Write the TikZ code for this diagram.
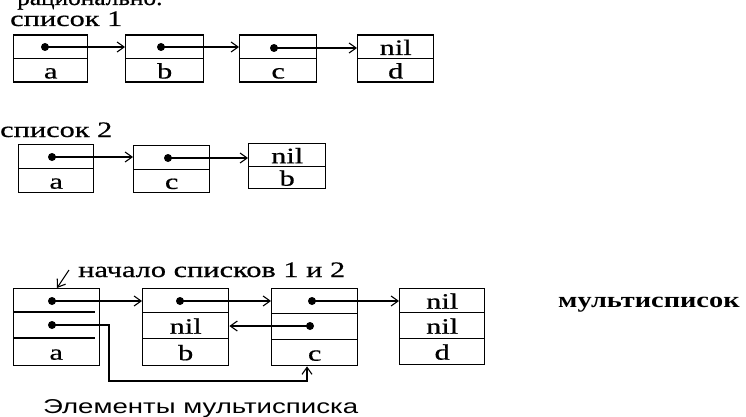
\documentclass[tikz,border=0pt]{standalone}
\usepackage{fontspec}
\setmainfont{Liberation Serif}
\newfontfamily\rf{Liberation Serif}[FakeStretch=1.38,FakeBold=0.6]
\newfontfamily\rft{Liberation Serif}[FakeStretch=1.15,FakeBold=0.6]
\newfontfamily\rfb{Liberation Serif Bold}[FakeStretch=1.29]
\newfontfamily\lsans{Liberation Sans}[FakeStretch=1.38]
\usetikzlibrary{arrows.meta}
\begin{document}
\begin{tikzpicture}[x=1pt,y=-1pt,
  cell/.style={draw,line width=1.4pt,inner sep=0pt,anchor=north west,
    text height=16pt,text depth=0pt,font=\rf\fontsize{22}{24}\selectfont},
  plain/.style={inner sep=0pt,anchor=north west,
    text height=16pt,text depth=0pt,font=\rf\fontsize{22}{24}\selectfont},
  dotn/.style={circle,fill,inner sep=0pt,minimum size=8pt},
  ptr/.style={line width=1.1pt,-{Straight Barb[length=7pt,width=10pt,line width=1.1pt]}},
  lbl/.style={anchor=base west,inner sep=0pt,font=\rf\fontsize{22}{24}\selectfont}]
\useasboundingbox (0,0) rectangle (746,417);

% top cut text
\node[lbl,font=\rft\fontsize{22}{24}\selectfont] (top) at (17,5) {рационально.};

% ---------- list 1 ----------
\node[lbl] (t1) at (10,26) {список 1};
\node[cell,minimum width=74pt,minimum height=23.5pt] (l1a1) at (13,34.5) {};
\node[cell,minimum width=74pt,minimum height=23.5pt] (l1a2) at (13,58) {a};
\node[cell,minimum width=78pt,minimum height=23.5pt] (l1b1) at (125,34.5) {};
\node[cell,minimum width=78pt,minimum height=23.5pt] (l1b2) at (125,58) {b};
\node[cell,minimum width=77pt,minimum height=23.5pt] (l1c1) at (239,34.5) {};
\node[cell,minimum width=77pt,minimum height=23.5pt] (l1c2) at (239,58) {c};
\node[cell,minimum width=76pt,minimum height=23.5pt] (l1d1) at (357,34.5) {nil};
\node[cell,minimum width=76pt,minimum height=23.5pt] (l1d2) at (357,58) {d};
\node[dotn] (l1ad) at (45,47) {};
\node[dotn] (l1bd) at (161,47) {};
\node[dotn] (l1cd) at (274,48) {};
\draw[ptr] (l1ad.center) -- (l1ad.center -| l1b1.west);
\draw[ptr] (l1bd.center) -- (l1bd.center -| l1c1.west);
\draw[ptr] (l1cd.center) -- (l1cd.center -| l1d1.west);

% ---------- list 2 ----------
\node[lbl] (t2) at (0,137) {список 2};
\node[cell,minimum width=75pt,minimum height=24pt] (l2a1) at (18,144) {};
\node[cell,minimum width=75pt,minimum height=24pt] (l2a2) at (18,168) {a};
\node[cell,minimum width=76pt,minimum height=23.5pt] (l2c1) at (133,145) {};
\node[cell,minimum width=76pt,minimum height=23.5pt] (l2c2) at (133,168.5) {c};
\node[cell,minimum width=77pt,minimum height=23pt] (l2b1) at (248,143) {nil};
\node[cell,minimum width=77pt,minimum height=22pt] (l2b2) at (248,166) {b};
\node[dotn] (l2ad) at (52,157) {};
\node[dotn] (l2cd) at (168,158) {};
\draw[ptr] (l2ad.center) -- (l2ad.center -| l2c1.west);
\draw[ptr] (l2cd.center) -- (l2cd.center -| l2b1.west);

% ---------- multilist ----------
\node[lbl] (t3) at (78,277) {начало списков 1 и 2};
\node[draw,line width=1.4pt,inner sep=0pt,anchor=north west,
  minimum width=86pt,minimum height=77pt] (ma) at (13,288) {};
\draw[line width=1.4pt] (ma.west |- 0,312) -- (95,312);
\draw[line width=1.4pt] (ma.west |- 0,338) -- (95,338);
\node[plain,minimum width=86pt,minimum height=27pt] (ma3) at (13,338) {a};

\node[cell,minimum width=86pt,minimum height=24pt] (mb1) at (142,288) {};
\node[cell,minimum width=86pt,minimum height=26pt] (mb2) at (142,312) {nil};
\node[cell,minimum width=86pt,minimum height=27pt] (mb3) at (142,338) {b};
\node[cell,minimum width=86pt,minimum height=25pt] (mc1) at (271,288) {};
\node[cell,minimum width=86pt,minimum height=26pt] (mc2) at (271,313) {};
\node[cell,minimum width=86pt,minimum height=26pt] (mc3) at (271,339) {c};
\node[cell,minimum width=85pt,minimum height=24pt] (md1) at (399,288) {nil};
\node[cell,minimum width=85pt,minimum height=26pt] (md2) at (399,312) {nil};
\node[cell,minimum width=85pt,minimum height=26pt] (md3) at (399,338) {d};

\node[dotn] (ma1d) at (52,301) {};
\node[dotn] (ma2d) at (52,325) {};
\node[dotn] (mb1d) at (180,301) {};
\node[dotn] (mc1d) at (312,301) {};
\node[dotn] (mc2d) at (310,326) {};
\draw[ptr] (ma1d.center) -- (ma1d.center -| mb1.west);
\draw[ptr] (mb1d.center) -- (mb1d.center -| mc1.west);
\draw[ptr] (mc1d.center) -- (mc1d.center -| md1.west);
\draw[ptr] (mc2d.center) -- (mc2d.center -| mb2.east);
\coordinate (bend) at (109,381);
\coordinate (cpt) at (307,0);
\draw[ptr] (ma2d.center) -| (bend) -| (mc3.south -| cpt);

\coordinate (st) at (69,270);
\coordinate (stEnd) at (57,288);
\draw[ptr] (st) -- (stEnd);

\node[lbl,font=\rfb\fontsize{22}{24}\selectfont] (multi) at (558,307) {мультисписок};
\node[lbl,font=\lsans\fontsize{20}{22}\selectfont] (elem) at (43,413) {Элементы мультисписка};
\end{tikzpicture}
\end{document}
